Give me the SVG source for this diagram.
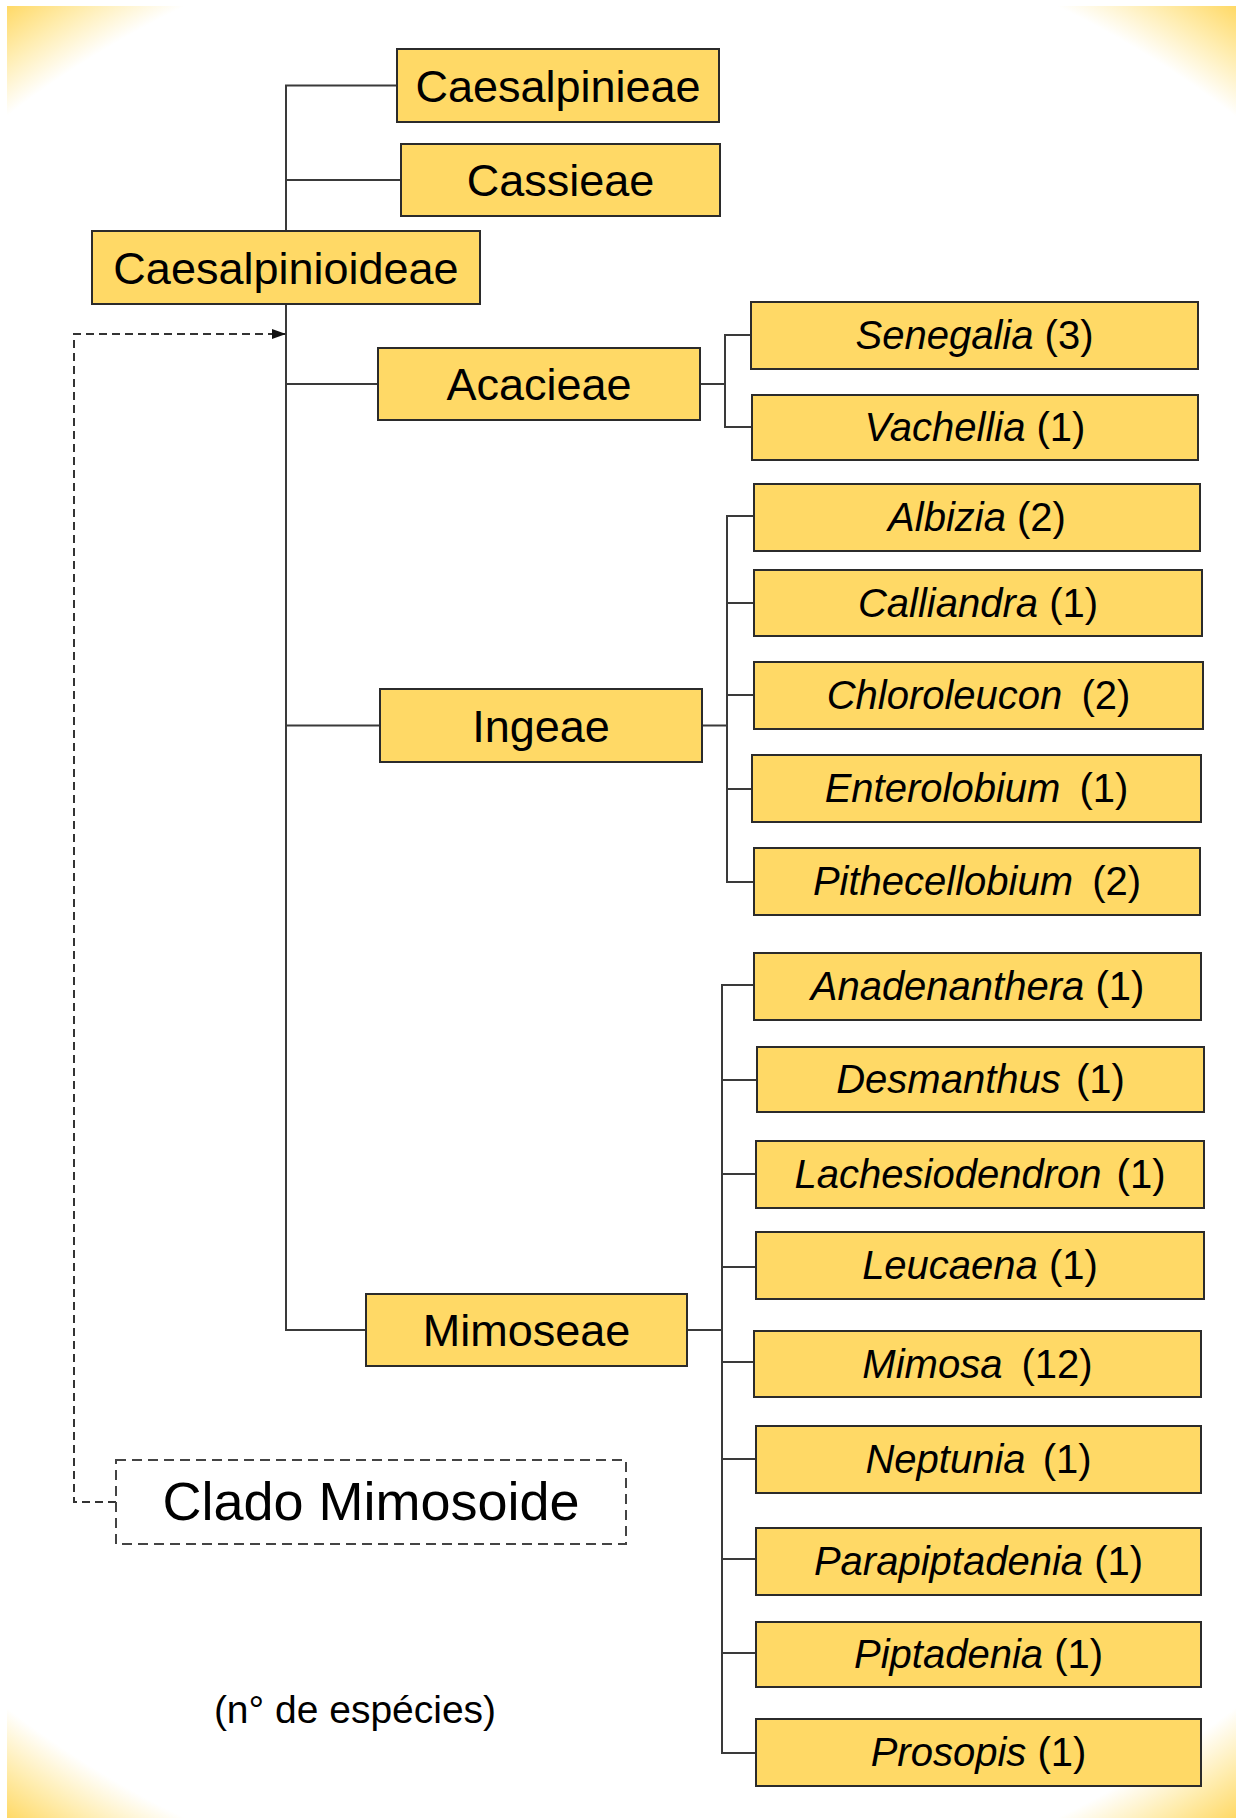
<svg xmlns="http://www.w3.org/2000/svg" width="1243" height="1818" viewBox="0 0 1243 1818">
  <style>
    .box { fill: #FFD966; stroke: #2b2b2b; stroke-width: 2; }
    .lbl { font-family: "Liberation Sans", Arial, sans-serif; font-size: 45px; fill: #000; text-anchor: middle; }
    .sp { font-family: "Liberation Sans", Arial, sans-serif; font-size: 40px; fill: #000; text-anchor: middle; }
    .sp .g { font-style: italic; }
    .ln { fill: none; stroke: #3a3a3a; stroke-width: 2; }
    .dash { fill: none; stroke: #333; stroke-width: 2; stroke-dasharray: 8 5; }
  </style>
  <defs>
    <radialGradient id="bg" gradientUnits="userSpaceOnUse" cx="621" cy="912" r="1095">
      <stop offset="0" stop-color="#ffffff"/>
      <stop offset="0.918" stop-color="#ffffff"/>
      <stop offset="0.96" stop-color="#FFEDB0"/>
      <stop offset="1" stop-color="#FFD966"/>
    </radialGradient>
    <marker id="arrow" markerWidth="14" markerHeight="10" refX="13" refY="5" orient="auto" markerUnits="userSpaceOnUse">
      <path d="M0,0 L14,5 L0,10 Z" fill="#111"/>
    </marker>
  </defs>

  <!-- page background with golden corners -->
  <rect x="0" y="0" width="1243" height="1818" fill="#fff"/>
  <rect x="7" y="6" width="1229" height="1812" fill="url(#bg)"/>

  <!-- connectors -->
  <g id="connectors">
    <!-- subfamily trunk -->
    <path class="ln" d="M397,85.5 H286 V1330 H366"/>
    <path class="ln" d="M286,180 H401"/>
    <path class="ln" d="M286,384 H378"/>
    <path class="ln" d="M286,725.5 H380"/>
    <!-- Acacieae bracket -->
    <path class="ln" d="M700,384 H725 M751,335 H725 V427 H752"/>
    <!-- Ingeae bracket -->
    <path class="ln" d="M702,725.5 H727 M754,516 H727 V882 H754 M727,603 H754 M727,695 H754 M727,789 H752"/>
    <!-- Mimoseae bracket -->
    <path class="ln" d="M687,1330 H722 M754,985 H722 V1753 H756 M722,1080 H757 M722,1174 H756 M722,1267 H756 M722,1362 H754 M722,1459 H756 M722,1559 H756 M722,1653 H756"/>
    <!-- Clado Mimosoide link -->
    <path class="dash" d="M116,1502 H74 V334 H285" marker-end="url(#arrow)"/>
  </g>

  <!-- tribes and subfamily -->
  <g id="caesalpinieae">
    <rect class="box" x="397" y="49" width="322" height="73"/>
    <text class="lbl" x="558" y="101.5">Caesalpinieae</text>
  </g>
  <g id="cassieae">
    <rect class="box" x="401" y="144" width="319" height="72"/>
    <text class="lbl" x="560.5" y="196">Cassieae</text>
  </g>
  <g id="caesalpinioideae">
    <rect class="box" x="92" y="231" width="388" height="73"/>
    <text class="lbl" x="286" y="283.5">Caesalpinioideae</text>
  </g>
  <g id="acacieae">
    <rect class="box" x="378" y="348" width="322" height="72"/>
    <text class="lbl" x="539" y="400">Acacieae</text>
  </g>
  <g id="ingeae">
    <rect class="box" x="380" y="689" width="322" height="73"/>
    <text class="lbl" x="541" y="741.5">Ingeae</text>
  </g>
  <g id="mimoseae">
    <rect class="box" x="366" y="1294" width="321" height="72"/>
    <text class="lbl" x="526.5" y="1346">Mimoseae</text>
  </g>

  <!-- genera -->
  <g id="senegalia">
    <rect class="box" x="751" y="302" width="447" height="67"/>
    <text class="sp" x="974.5" y="349"><tspan class="g">Senegalia</tspan> (3)</text>
  </g>
  <g id="vachellia">
    <rect class="box" x="752" y="395" width="446" height="65"/>
    <text class="sp" x="975" y="441"><tspan class="g">Vachellia</tspan> (1)</text>
  </g>
  <g id="albizia">
    <rect class="box" x="754" y="484" width="446" height="67"/>
    <text class="sp" x="977" y="531"><tspan class="g">Albizia</tspan> (2)</text>
  </g>
  <g id="calliandra">
    <rect class="box" x="754" y="570" width="448" height="66"/>
    <text class="sp" x="978" y="617"><tspan class="g">Calliandra</tspan> (1)</text>
  </g>
  <g id="chloroleucon">
    <rect class="box" x="754" y="662" width="449" height="67"/>
    <text class="sp" x="978.5" y="709"><tspan class="g">Chloroleucon</tspan><tspan dx="8"> (2)</tspan></text>
  </g>
  <g id="enterolobium">
    <rect class="box" x="752" y="755" width="449" height="67"/>
    <text class="sp" x="976.5" y="802"><tspan class="g">Enterolobium</tspan><tspan dx="8"> (1)</tspan></text>
  </g>
  <g id="pithecellobium">
    <rect class="box" x="754" y="848" width="446" height="67"/>
    <text class="sp" x="977" y="895"><tspan class="g">Pithecellobium</tspan><tspan dx="8"> (2)</tspan></text>
  </g>
  <g id="anadenanthera">
    <rect class="box" x="754" y="953" width="447" height="67"/>
    <text class="sp" x="977.5" y="1000"><tspan class="g">Anadenanthera</tspan> (1)</text>
  </g>
  <g id="desmanthus">
    <rect class="box" x="757" y="1047" width="447" height="65"/>
    <text class="sp" x="980.5" y="1093"><tspan class="g">Desmanthus</tspan><tspan dx="4"> (1)</tspan></text>
  </g>
  <g id="lachesiodendron">
    <rect class="box" x="756" y="1141" width="448" height="67"/>
    <text class="sp" x="980" y="1188"><tspan class="g">Lachesiodendron</tspan><tspan dx="4"> (1)</tspan></text>
  </g>
  <g id="leucaena">
    <rect class="box" x="756" y="1232" width="448" height="67"/>
    <text class="sp" x="980" y="1279"><tspan class="g">Leucaena</tspan> (1)</text>
  </g>
  <g id="mimosa">
    <rect class="box" x="754" y="1331" width="447" height="66"/>
    <text class="sp" x="977.5" y="1378"><tspan class="g">Mimosa</tspan><tspan dx="8"> (12)</tspan></text>
  </g>
  <g id="neptunia">
    <rect class="box" x="756" y="1426" width="445" height="67"/>
    <text class="sp" x="978.5" y="1473"><tspan class="g">Neptunia</tspan><tspan dx="6"> (1)</tspan></text>
  </g>
  <g id="parapiptadenia">
    <rect class="box" x="756" y="1528" width="445" height="67"/>
    <text class="sp" x="978.5" y="1575"><tspan class="g">Parapiptadenia</tspan> (1)</text>
  </g>
  <g id="piptadenia">
    <rect class="box" x="756" y="1622" width="445" height="65"/>
    <text class="sp" x="978.5" y="1668"><tspan class="g">Piptadenia</tspan> (1)</text>
  </g>
  <g id="prosopis">
    <rect class="box" x="756" y="1719" width="445" height="67"/>
    <text class="sp" x="978.5" y="1766"><tspan class="g">Prosopis</tspan> (1)</text>
  </g>

  <!-- clade label -->
  <g id="clado-mimosoide">
    <rect x="116" y="1460" width="510" height="84" fill="#fff" stroke="#444" stroke-width="2" stroke-dasharray="10 6"/>
    <text x="371" y="1520" font-family="Liberation Sans, Arial, sans-serif" font-size="54" text-anchor="middle" fill="#000">Clado Mimosoide</text>
  </g>

  <!-- legend -->
  <text x="355" y="1723" font-family="Liberation Sans, Arial, sans-serif" font-size="39" text-anchor="middle" fill="#000">(n° de espécies)</text>
</svg>
